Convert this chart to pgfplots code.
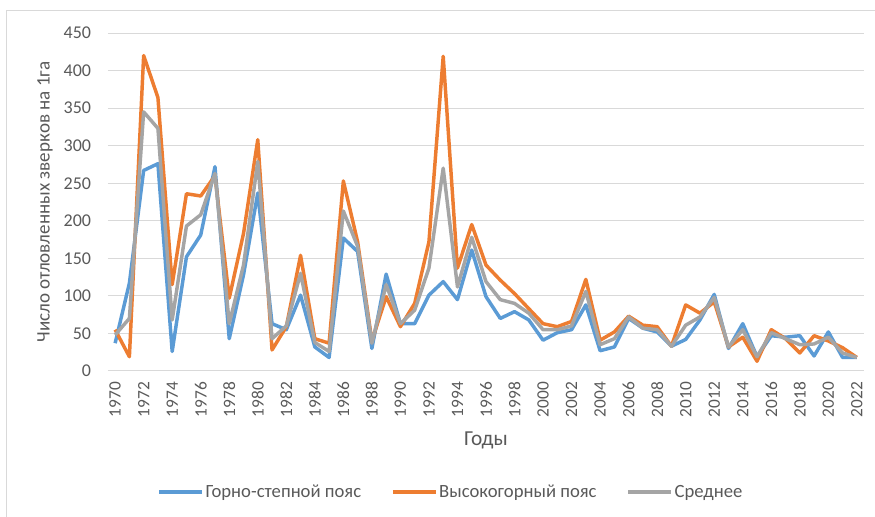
\documentclass[border=0pt]{standalone}
\usepackage{fontspec}
\setmainfont{Carlito}
\usepackage{pgfplots}
\pgfplotsset{compat=1.18}
\usepackage{pgfplotstable}
\definecolor{cblue}{HTML}{5B9BD5}
\definecolor{corange}{HTML}{ED7D31}
\definecolor{cgray}{HTML}{A5A5A5}
\definecolor{gridc}{HTML}{D9D9D9}
\definecolor{txt}{HTML}{595959}
\pgfplotstableread{
year blue orange gray
1970 37 55 48
1971 117 19 70
1972 267 420 345
1973 276 364 323
1974 26 115 68
1975 152 236 193
1976 181 233 208
1977 272 260 263
1978 43 97 63
1979 128 183 141
1980 237 308 279
1981 63 28 43
1982 55 59 60
1983 101 154 130
1984 32 43 38
1985 18 37 26
1986 177 253 213
1987 159 172 166
1988 30 40 37
1989 129 99 115
1990 63 59 63
1991 63 90 81
1992 101 172 137
1993 119 419 270
1994 95 137 112
1995 161 195 178
1996 99 141 119
1997 70 121 95
1998 79 103 90
1999 68 83 77
2000 41 63 55
2001 51 59 55
2002 55 66 60
2003 88 122 106
2004 27 41 35
2005 32 52 43
2006 70 73 72
2007 57 61 57
2008 52 59 55
2009 33 33 33
2010 42 88 61
2011 68 77 72
2012 102 92 98
2013 30 32 32
2014 63 45 55
2015 19 13 19
2016 47 55 51
2017 45 43 43
2018 47 24 35
2019 20 47 36
2020 52 40 45
2021 18 31 24
2022 18 18 18
}\data
\begin{document}
\begin{tikzpicture}
\begin{axis}[
  scale only axis, width=567pt, height=253.5pt,
  xmin=1969.5, xmax=2022.5, ymin=0, ymax=450,
  xtick={1970,1972,...,2022}, ytick={0,50,...,450},
  axis line style={draw=none},
  major tick length=0pt,
  ymajorgrids, major grid style={gridc, line width=0.75pt},
  /pgf/number format/1000 sep={},
  /pgf/number format/assume math mode=true,
  yticklabel style={font=\fontsize{13.5}{15}\selectfont, text=txt, anchor=east, inner sep=0pt, xshift=-12.5pt},
  xticklabel style={font=\fontsize{13}{15}\selectfont, text=txt, rotate=90, anchor=east, inner xsep=8pt, inner ysep=0pt},
  ylabel={Число отловленных зверков на 1га},
  every axis y label/.style={at={(axis description cs:-0.0833,0.5)}, rotate=90, anchor=center, font=\fontsize{14.3}{16}\selectfont, text=txt},
  xlabel={Годы},
  every axis x label/.style={at={(axis description cs:0.5,-0.204)}, anchor=center, font=\fontsize{16}{18}\selectfont, text=txt},
  legend style={at={(axis description cs:0.4537,-0.358)}, anchor=center, draw=none, fill=none,
    legend columns=3, font=\fontsize{14}{16}\selectfont, text=txt,
    /tikz/every even column/.append style={column sep=21pt},
    nodes={inner xsep=1.5pt}},
  legend image code/.code={\draw[#1, line width=2.5pt] (0pt,0pt) -- (32pt,0pt);},
]
\addplot[cblue, line width=2.6pt, line join=round] table[x=year, y=blue] {\data};
\addlegendentry{Горно-степной пояс}
\addplot[corange, line width=2.6pt, line join=round] table[x=year, y=orange] {\data};
\addlegendentry{Высокогорный пояс}
\addplot[cgray, line width=2.6pt, line join=round] table[x=year, y=gray] {\data};
\addlegendentry{Среднее}
\coordinate (O) at (rel axis cs:0,0);
\end{axis}
\draw[gridc, line width=0.75pt] ([shift={(-75.75pt,-120pt)}]O) rectangle ([shift={(600pt,270pt)}]O);
\pgfresetboundingbox
\useasboundingbox ([shift={(-81pt,-109.5pt)}]O) rectangle ([shift={(575.25pt,278.25pt)}]O);
\end{tikzpicture}
\end{document}
